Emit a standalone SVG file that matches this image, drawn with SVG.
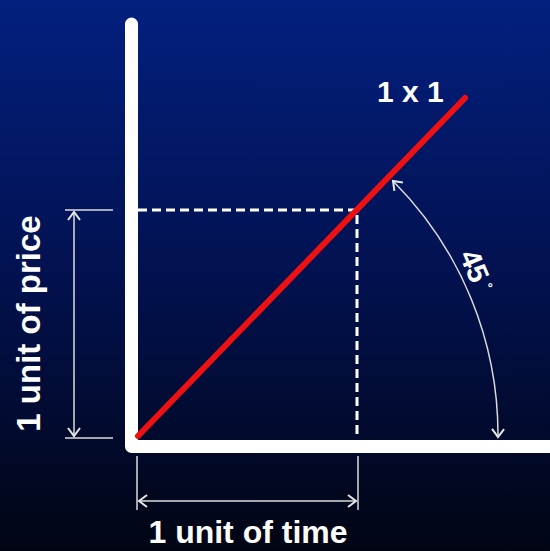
<svg xmlns="http://www.w3.org/2000/svg" width="550" height="551" viewBox="0 0 550 551">
  <defs>
    <linearGradient id="bg" x1="0" y1="0" x2="0" y2="1">
      <stop offset="0" stop-color="#03207f"/>
      <stop offset="0.5" stop-color="#02114f"/>
      <stop offset="1" stop-color="#010513"/>
    </linearGradient>
    <marker id="chev" markerUnits="userSpaceOnUse" markerWidth="20" markerHeight="20" viewBox="-10 -10 20 20" refX="0" refY="0" orient="auto-start-reverse">
      <path d="M-8,-6 L0,0 L-8,6" fill="none" stroke="#e8e8e8" stroke-width="2"/>
    </marker>
    <style>
      .lbl { font-family: "Liberation Sans", Arial, sans-serif; font-weight: bold; fill: #ffffff; }
      .dim { fill: none; stroke: #dcdcdc; stroke-width: 1.5; }
    </style>
  </defs>
  <rect width="550" height="551" fill="url(#bg)"/>
  <g id="axes">
    <path d="M131.5,24 V446.5 H560" fill="none" stroke="#ffffff" stroke-width="13" stroke-linecap="round" stroke-linejoin="round"/>
  </g>
  <g id="connectors">
    <path d="M138,210 H357 V437" fill="none" stroke="#ffffff" stroke-width="3" stroke-dasharray="9 5"/>
    <line x1="138" y1="436" x2="465" y2="98" stroke="#ee1111" stroke-width="6" stroke-linecap="round"/>
    <line class="dim" x1="65" y1="210" x2="113" y2="210"/>
    <line class="dim" x1="65" y1="438" x2="113" y2="438"/>
    <line class="dim" x1="74" y1="212" x2="74" y2="436" marker-start="url(#chev)" marker-end="url(#chev)"/>
    <line class="dim" x1="137" y1="456" x2="137" y2="510"/>
    <line class="dim" x1="358" y1="456" x2="358" y2="510"/>
    <line class="dim" x1="139" y1="501" x2="356" y2="501" marker-start="url(#chev)" marker-end="url(#chev)"/>
    <path class="dim" d="M393,181 A360,360 0 0 1 498,437" marker-start="url(#chev)" marker-end="url(#chev)"/>
  </g>
  <g id="label-1x1">
    <text class="lbl" x="377" y="102" font-size="30">1 x 1</text>
  </g>
  <g id="label-price">
    <text class="lbl" transform="translate(40,323.5) rotate(-90)" text-anchor="middle" font-size="33">1 unit of price</text>
  </g>
  <g id="label-time">
    <text class="lbl" x="248" y="543" text-anchor="middle" font-size="32">1 unit of time</text>
  </g>
  <g id="label-45">
    <text class="lbl" transform="translate(459,255) rotate(67)" font-size="29">45<tspan font-size="13" dx="5" dy="-10">°</tspan></text>
  </g>
</svg>
